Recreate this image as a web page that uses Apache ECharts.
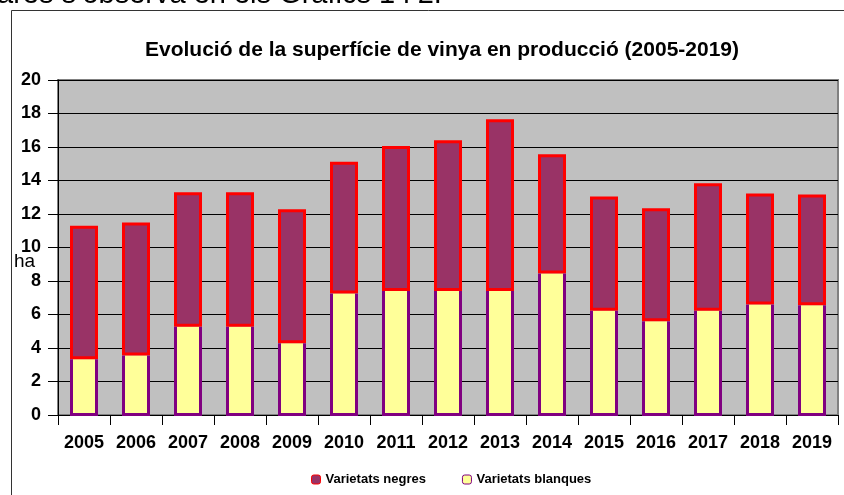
<!DOCTYPE html>
<html><head><meta charset="utf-8">
<script src="https://cdn.jsdelivr.net/npm/echarts@6/dist/echarts.min.js"></script>
<style>html,body{margin:0;padding:0;background:#fff}#c{width:844px;height:495px}</style>
</head><body><div id="c"></div>
<script>
const years = ['2005','2006','2007','2008','2009','2010','2011','2012','2013','2014','2015','2016','2017','2018','2019'];
const blanques = [3.33, 3.55, 5.27, 5.27, 4.28, 7.26, 7.40, 7.40, 7.40, 8.45, 6.22, 5.60, 6.22, 6.60, 6.55];
const negres = [7.97, 7.95, 8.03, 8.03, 8.00, 7.86, 8.66, 9.00, 10.25, 7.12, 6.83, 6.74, 7.61, 6.63, 6.62];
const yTicks = {min: 0, max: 20, interval: 2};
const titleText = 'Evolució de la superfície de vinya en producció (2005-2019)';
const topText = 'ares s\u2019observa en els Gràfics 1 i 2.';

const BW = 28, LW = 3;
const chart = echarts.init(document.getElementById('c'));
const F = 'Liberation Sans, Arial, sans-serif';
chart.setOption({
  animation: false,
  backgroundColor: '#fff',
  title: {text: titleText, left: 437, textAlign: 'center', top: 35,
    textStyle: {fontFamily: F, fontSize: 21, fontWeight: 'bold', color: '#000'}},
  graphic: [
    {type: 'rect', shape: {x: 11.5, y: 10.5, width: 900, height: 600}, silent: true, z: -1,
      style: {fill: 'none', stroke: '#333', lineWidth: 1}},
    {type: 'text', left: -3, top: -20, style: {text: topText, font: '29px ' + F, fill: '#000'}},
    {type: 'text', left: 14, top: 252, style: {text: 'ha', font: '19px ' + F, fill: '#000'}}
  ],
  legend: {left: 306, top: 468, itemWidth: 9, itemHeight: 9, itemGap: 36,
    data: [
      {name: 'Varietats negres', itemStyle: {borderColor: '#FF0000', borderWidth: 1}},
      {name: 'Varietats blanques', itemStyle: {borderColor: '#800080', borderWidth: 1}}
    ],
    textStyle: {fontFamily: F, fontSize: 13, fontWeight: 'bold', color: '#000'}},
  grid: {left: 58, right: 6, top: 80, bottom: 80, show: true, backgroundColor: '#C0C0C0',
    borderColor: '#808080', borderWidth: 2},
  xAxis: {type: 'category', data: years,
    axisLine: {lineStyle: {color: '#000', width: 1}},
    axisTick: {show: true, length: 10, interval: 0, lineStyle: {color: '#000'}},
    axisLabel: {interval: 0, margin: 19, fontFamily: F, fontSize: 18, fontWeight: 'bold', color: '#000'}},
  yAxis: {type: 'value', min: yTicks.min, max: yTicks.max, interval: yTicks.interval,
    axisLine: {show: true, lineStyle: {color: '#000', width: 1}},
    axisTick: {show: true, length: 10, lineStyle: {color: '#000'}},
    splitLine: {lineStyle: {color: '#000', width: 1}},
    axisLabel: {margin: 17, fontFamily: F, fontSize: 18, fontWeight: 'bold', color: '#000'}},
  series: [
    {name: 'Varietats blanques', type: 'bar', stack: 't', data: blanques, barWidth: BW, z: 2,
      itemStyle: {color: '#FFFF99', borderWidth: 0}},
    {name: 'Varietats negres', type: 'bar', stack: 't', data: negres, barWidth: BW, z: 3,
      itemStyle: {color: '#993366', borderColor: '#FF0000', borderWidth: LW}},
    {name: 'vora blanques', type: 'custom', z: 4, silent: true,
      data: blanques.map((v, i) => [i, v]),
      renderItem: function (params, api) {
        const i = api.value(0), v = api.value(1);
        const top = api.coord([i, v]);
        const bot = api.coord([i, 0]);
        const l = top[0] - BW / 2 + LW / 2, r = top[0] + BW / 2 - LW / 2;
        const b = bot[1] - LW / 2 + 1;
        return {type: 'polyline', shape: {points: [[l, top[1]], [l, b], [r, b], [r, top[1]]]},
          style: {fill: null, stroke: '#800080', lineWidth: LW}};
      }}
  ]
});
</script></body></html>
